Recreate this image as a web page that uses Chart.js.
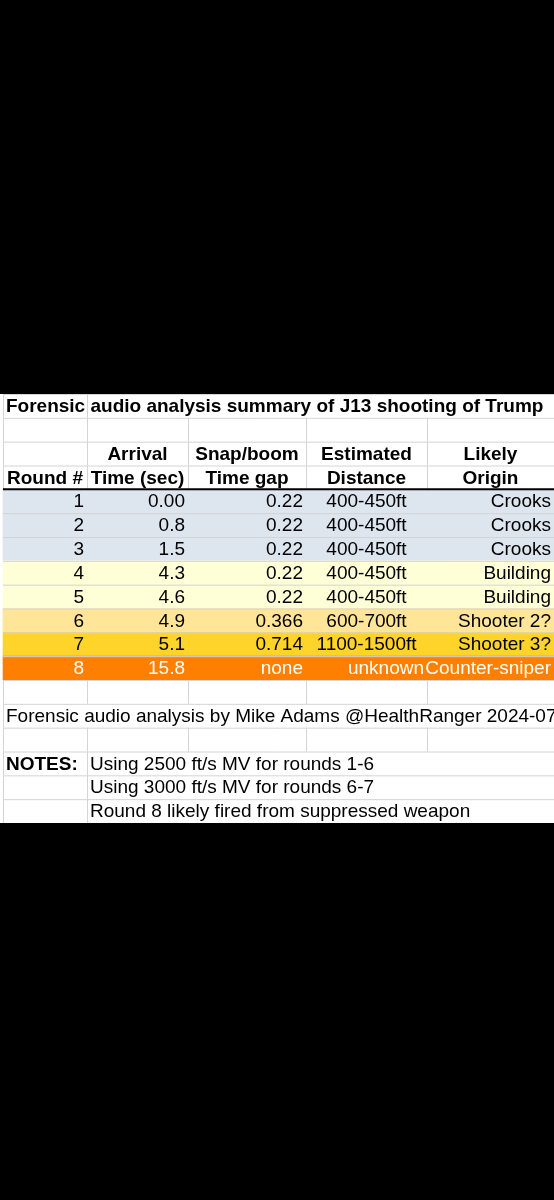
<!DOCTYPE html>
<html>
<head>
<meta charset="utf-8">
<script src="https://cdn.jsdelivr.net/npm/chart.js@4"></script>
<style>
  body { margin: 0; background: #000; width: 554px; height: 1200px; overflow: hidden; }
  .wrap { position: absolute; top: 394px; left: 0; width: 554px; height: 429px; background: #fff; }
</style>
</head>
<body>
<div class="wrap"><canvas id="sheet"></canvas></div>
<script>
// sheet rows (one category per spreadsheet row)
const rowNames = ["title", "blank1", "head1", "head2", "r1", "r2", "r3", "r4", "r5", "r6", "r7", "r8",
                  "blank2", "credit", "blank3", "note1", "note2", "note3"];

const rounds = ["1", "2", "3", "4", "5", "6", "7", "8"];
const arrival = ["0.00", "0.8", "1.5", "4.3", "4.6", "4.9", "5.1", "15.8"];
const snapGap = ["0.22", "0.22", "0.22", "0.22", "0.22", "0.366", "0.714", "none"];
const distance = ["400-450ft", "400-450ft", "400-450ft", "400-450ft", "400-450ft", "600-700ft", "1100-1500ft", "unknown"];
const origin = ["Crooks", "Crooks", "Crooks", "Building", "Building", "Shooter 2?", "Shooter 3?", "Counter-sniper"];
const rowFill = ["#dde5ef", "#dde5ef", "#dde5ef", "#ffffd7", "#ffffd7", "#ffe597", "#ffd42a", "#ff8000"];

const header1 = ["", "Arrival", "Snap/boom", "Estimated", "Likely"];
const header2 = ["Round #", "Time (sec)", "Time gap", "Distance", "Origin"];
const titleText = "Forensic audio analysis summary of J13 shooting of Trump";
const creditText = "Forensic audio analysis by Mike Adams @HealthRanger 2024-07-20";
const notes = ["Using 2500 ft/s MV for rounds 1-6", "Using 3000 ft/s MV for rounds 6-7", "Round 8 likely fired from suppressed weapon"];

// column edges in x-scale units (layout)
const colEdges = [3, 87, 188, 306, 427, 554];
const FONT = "'Liberation Sans', Arial, sans-serif";

const tablePlugin = {
  id: "table",
  afterDatasetsDraw(chart) {
    const { ctx } = chart;
    const x = chart.scales.x, y = chart.scales.y;
    const band = y.getPixelForValue(1) - y.getPixelForValue(0);
    const top = i => y.getPixelForValue(i) - band / 2;
    const mid = i => y.getPixelForValue(i) + 1;
    const xp = v => x.getPixelForValue(v);

    // grid lines
    ctx.save();
    ctx.strokeStyle = "#d4d4d4";
    ctx.lineWidth = 1;
    for (let i = 0; i <= rowNames.length; i++) {
      ctx.beginPath(); ctx.moveTo(xp(colEdges[0]), top(i) + 0.5); ctx.lineTo(xp(554), top(i) + 0.5); ctx.stroke();
    }
    rowNames.forEach((r, i) => {
      if (r.startsWith("r") && r.length === 2) return;
      colEdges.forEach((c, k) => {
        if (r === "credit" && k > 0 && k < 5) return;
        if (r === "title" && k > 1 && k < 5) return;
        if (r.startsWith("note") && k > 1 && k < 5) return;
        ctx.beginPath(); ctx.moveTo(xp(c) + 0.5, top(i)); ctx.lineTo(xp(c) + 0.5, top(i + 1)); ctx.stroke();
      });
    });
    ctx.strokeStyle = "#000";
    ctx.lineWidth = 2;
    ctx.beginPath(); ctx.moveTo(xp(colEdges[0]), top(4)); ctx.lineTo(xp(554), top(4)); ctx.stroke();

    ctx.textBaseline = "middle";
    const put = (text, i, col, align, bold, color) => {
      ctx.font = (bold ? "bold " : "") + "19px " + FONT;
      ctx.fillStyle = color || "#000";
      ctx.textAlign = align;
      const l = xp(colEdges[col]), r = xp(colEdges[col + 1]);
      const px = align === "left" ? l + 3 : align === "right" ? r - 3 : (l + r) / 2;
      ctx.fillText(text, px, mid(i));
    };

    put(titleText, 0, 0, "left", true);
    header1.forEach((t, k) => put(t, 2, k, "center", true));
    header2.forEach((t, k) => put(t, 3, k, "center", true));
    rounds.forEach((t, j) => {
      const i = 4 + j;
      const col = j === 7 ? "#fff" : "#000";
      put(t, i, 0, "right", false, col);
      put(arrival[j], i, 1, "right", false, col);
      put(snapGap[j], i, 2, "right", false, col);
      put(distance[j], i, 3, j === 7 ? "right" : "center", false, col);
      put(origin[j], i, 4, "right", false, col);
    });
    put(creditText, 13, 0, "left", false);
    put("NOTES:", 15, 0, "left", true);
    notes.forEach((t, j) => put(t, 15 + j, 1, "left", false));
    ctx.restore();
  }
};

new Chart(document.getElementById("sheet"), {
  type: "bar",
  data: {
    labels: rowNames,
    datasets: [{
      data: rowNames.map((r, i) => (i >= 4 && i < 12) ? [colEdges[0], colEdges[5]] : null),
      backgroundColor: rowNames.map((r, i) => (i >= 4 && i < 12) ? rowFill[i - 4] : "transparent"),
      barPercentage: 1,
      categoryPercentage: 1,
      borderWidth: 0
    }]
  },
  options: {
    indexAxis: "y",
    responsive: true,
    maintainAspectRatio: false,
    animation: false,
    layout: { padding: 0 },
    scales: {
      x: { type: "linear", min: 0, max: 554, display: false },
      y: { display: false, offset: true }
    },
    plugins: { legend: { display: false }, tooltip: { enabled: false } }
  },
  plugins: [tablePlugin]
});
</script>
</body>
</html>
